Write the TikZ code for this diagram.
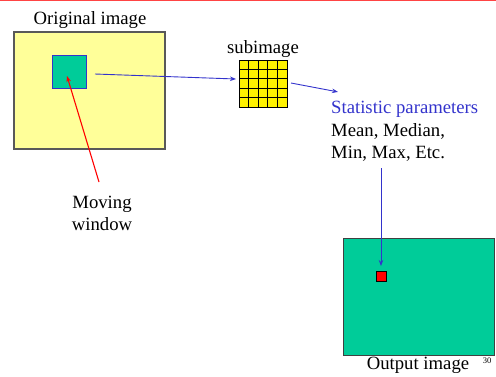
\documentclass[tikz,border=0pt]{standalone}
\usepackage{fontspec}
\setmainfont{Liberation Serif}
\usetikzlibrary{arrows.meta}
\definecolor{paleyellow}{HTML}{FFFF99}
\definecolor{sea}{HTML}{00CC99}
\definecolor{pblue}{HTML}{3333CC}
\definecolor{topred}{HTML}{FF4444}
\begin{document}
\begin{tikzpicture}[x=1pt,y=-1pt,
  lbl/.style={font=\fontsize{18.7}{22.5}\selectfont, inner sep=0pt},
  box/.style={anchor=north west, inner sep=0pt, outer sep=0pt},
  tip/.style={-{Stealth[length=6pt,width=4.5pt]}},
  bluearrow/.style={pblue, line width=0.9pt, tip},
  redarrow/.style={red, line width=1.1pt, tip}]
\useasboundingbox (0,0) rectangle (496,376);

% rule along the top edge
\draw[topred, line width=1.2pt] (0,0.8) -- (496,0.8);

% original image with the moving window
\node[lbl, anchor=base] (tOrig) at (90,24) {Original image};
\node[box, draw=black!65, line width=1.3pt, fill=paleyellow,
      minimum width=151pt, minimum height=117pt] (orig) at (14,32) {};
\node[box, draw=pblue, line width=1pt, fill=sea,
      minimum width=34pt, minimum height=33pt] (win) at (52,55) {};

\node[lbl, anchor=base] (mv1) at (102,208) {Moving};
\node[lbl, anchor=base] (mv2) at (102,230) {window};
\coordinate (mvtip) at (99,182);
\draw[redarrow] (mvtip) -- ([shift={(-2pt,-4.5pt)}]win.center);

% subimage: a 5x5 grid of pixels
\node[lbl, anchor=base] (tSub) at (263,53) {subimage};
\node[box, draw=black, line width=0.8pt, fill=yellow,
      minimum width=48pt, minimum height=47pt] (sub) at (239,60) {};
\foreach \i in {1,...,4} {
  \draw[line width=0.8pt] (sub.north west) ++(\i*9.6,0) -- ++(0,47);
  \draw[line width=0.8pt] (sub.north west) ++(0,\i*9.4) -- ++(48,0);
}
\draw[bluearrow] ([xshift=9pt,yshift=-2.5pt]win.east) -- ([shift={(-3pt,4.5pt)}]sub.west);

% statistic parameters
\node[lbl, anchor=base west, text=pblue] (st1) at (331,113) {Statistic parameters};
\node[lbl, anchor=base west] (st2) at (331,136) {Mean, Median,};
\node[lbl, anchor=base west] (st3) at (331,158) {Min, Max, Etc.};
\draw[bluearrow] ([shift={(4pt,0.5pt)}]sub.east) -- ([shift={(7pt,8.5pt)}]st1.north west);

% output image
\node[box, draw=black!75, line width=1pt, fill=sea,
      minimum width=151pt, minimum height=117pt] (out) at (343,238) {};
\node[box, draw=black, line width=0.8pt, fill=red,
      minimum width=10pt, minimum height=10pt] (px) at (376,271) {};
\coordinate (stdown) at (381,168);
\draw[bluearrow, shorten >=5pt] (stdown) -- (px.north);
\node[lbl, anchor=base] (tOut) at (418,369) {Output image};
\node[font=\fontsize{8.5}{10}\selectfont, inner sep=0pt, anchor=base] (pg) at (487,363) {30};
\end{tikzpicture}
\end{document}
